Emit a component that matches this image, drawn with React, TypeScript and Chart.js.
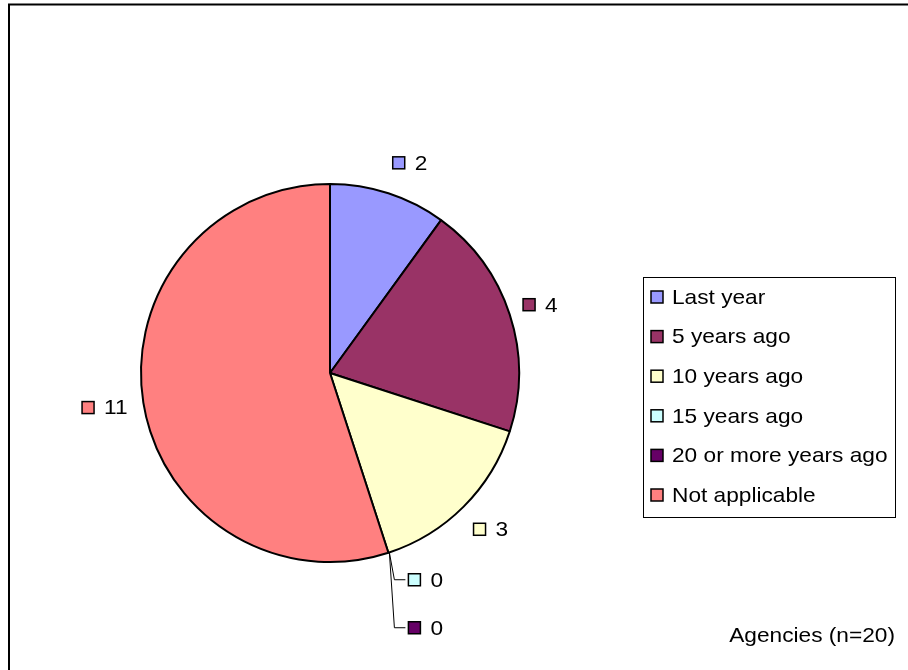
import React, { useEffect, useRef } from "react";
import { Chart, registerables } from "chart.js";

Chart.register(...registerables);

const categories = [
  "Last year",
  "5 years ago",
  "10 years ago",
  "15 years ago",
  "20 or more years ago",
  "Not applicable",
];
const counts = [2, 4, 3, 0, 0, 11];
const colors = ["#9999FF", "#993366", "#FFFFCC", "#CCFFFF", "#660066", "#FF8080"];
const footnote = "Agencies (n=20)";

const FONT = '21px "Liberation Sans", Arial, sans-serif';
const SX = 1.08;

function textWidth(ctx: CanvasRenderingContext2D, t: string) {
  ctx.font = FONT;
  return ctx.measureText(t).width * SX;
}

function drawText(ctx: CanvasRenderingContext2D, t: string, x: number, y: number, align: CanvasTextAlign) {
  ctx.save();
  ctx.font = FONT;
  ctx.fillStyle = "#000";
  ctx.textBaseline = "middle";
  ctx.textAlign = align;
  ctx.translate(x, y + 1);
  ctx.scale(SX, 1);
  ctx.fillText(t, 0, 0);
  ctx.restore();
}

function drawSwatch(ctx: CanvasRenderingContext2D, x: number, yc: number, color: string) {
  ctx.save();
  ctx.fillStyle = color;
  ctx.fillRect(x, yc - 6, 12, 12);
  ctx.lineWidth = 1.5;
  ctx.strokeStyle = "#000";
  ctx.strokeRect(x, yc - 6, 12, 12);
  ctx.restore();
}

const decorPlugin = {
  id: "decor",
  afterDraw(chart: any) {
    const ctx: CanvasRenderingContext2D = chart.ctx;
    // outer frame
    ctx.save();
    ctx.strokeStyle = "#000";
    ctx.lineWidth = 2;
    ctx.strokeRect(9, 4.5, 1000, 1000);
    ctx.restore();

    // legend
    ctx.save();
    ctx.strokeStyle = "#000";
    ctx.lineWidth = 1;
    ctx.strokeRect(643.5, 277.5, 252, 240);
    ctx.restore();
    categories.forEach((c, i) => {
      const y = 297 + i * 39.6;
      drawSwatch(ctx, 651, y, colors[i]);
      drawText(ctx, c, 672, y, "left");
    });

    // data labels
    const meta = chart.getDatasetMeta(0);
    let zeroIdx = 0;
    meta.data.forEach((arc: any, i: number) => {
      const v = counts[i];
      const label = String(v);
      const { x, y, startAngle, endAngle, outerRadius } = arc.getProps(
        ["x", "y", "startAngle", "endAngle", "outerRadius"],
        true
      );
      const mid = (startAngle + endAngle) / 2;
      const w = 12 + 10 + textWidth(ctx, label);
      if (v === 0) {
        const ex = x + Math.cos(mid) * outerRadius;
        const ey = y + Math.sin(mid) * outerRadius;
        const ly = ey + 27 + zeroIdx * 48;
        const sx = ex + 20;
        ctx.save();
        ctx.strokeStyle = "#000";
        ctx.lineWidth = 1;
        ctx.beginPath();
        ctx.moveTo(ex + 1, ey);
        ctx.lineTo(ex + 6, ly);
        ctx.lineTo(sx - 3, ly);
        ctx.stroke();
        ctx.restore();
        drawSwatch(ctx, sx, ly, colors[i]);
        drawText(ctx, label, sx + 22, ly, "left");
        zeroIdx++;
        return;
      }
      const d = 22;
      const c = Math.cos(mid);
      const ax = x + c * (outerRadius + d);
      const ay = y + Math.sin(mid) * (outerRadius + d);
      const yc = ay + 10 * Math.sin(mid);
      const left = c >= 0 ? ax - 8 * c : ax - w + 6;
      drawSwatch(ctx, left, yc, colors[i]);
      drawText(ctx, label, left + 22, yc, "left");
    });

    // footnote
    drawText(ctx, footnote, 895, 635, "right");
  },
};

export default function App() {
  const ref = useRef<HTMLCanvasElement | null>(null);
  useEffect(() => {
    if (!ref.current) return;
    const chart = new Chart(ref.current, {
      type: "pie",
      data: {
        labels: categories,
        datasets: [
          {
            data: counts,
            backgroundColor: colors,
            borderColor: "#000",
            borderWidth: 2,
          },
        ],
      },
      options: {
        responsive: false,
        animation: false,
        layout: { padding: { left: 140, top: 183, right: 388, bottom: 107 } },
        plugins: {
          legend: { display: false },
          tooltip: { enabled: false },
        },
      },
      plugins: [decorPlugin],
    });
    return () => chart.destroy();
  }, []);
  return (
    <div style={{ position: "absolute", left: 0, top: 0, width: 908, height: 670, background: "#fff" }}>
      <canvas ref={ref} width={908} height={670} style={{ width: 908, height: 670, display: "block" }} />
    </div>
  );
}
